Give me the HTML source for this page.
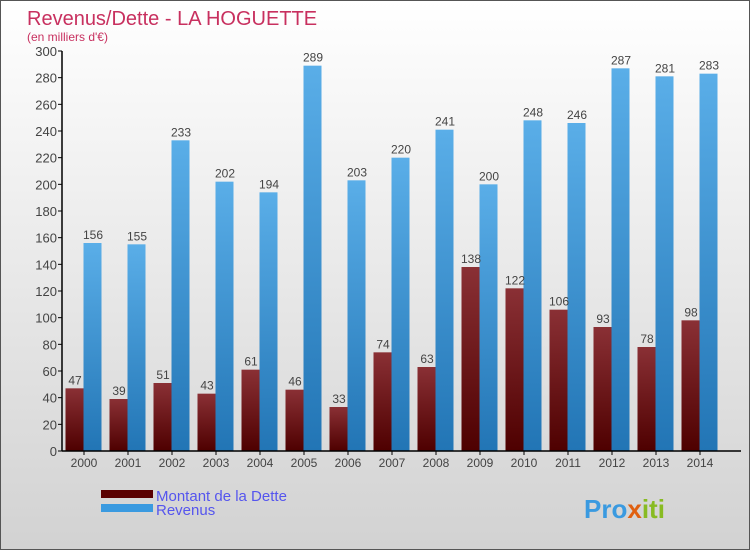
<!DOCTYPE html>
<html><head><meta charset="utf-8"><style>
body{margin:0}
#c{width:750px;height:550px;position:relative;overflow:hidden;font-family:"Liberation Sans",sans-serif;background:linear-gradient(#ffffff,#d2d2d2);box-sizing:border-box;border:1px solid #555}
</style></head><body>
<div id="c">
<svg id="s" width="750" height="550" style="position:absolute;left:0;top:0">
<defs>
<linearGradient id="gd" x1="0" y1="0" x2="0" y2="1"><stop offset="0" stop-color="#8a3035"/><stop offset="1" stop-color="#4e0000"/></linearGradient>
<linearGradient id="gr" x1="0" y1="0" x2="0" y2="1"><stop offset="0" stop-color="#5aaee8"/><stop offset="1" stop-color="#2275b5"/></linearGradient>
</defs>
<text x="26" y="24" font-size="20" fill="#c8305f">Revenus/Dette - LA HOGUETTE</text>
<text x="26" y="40" font-size="12" fill="#c8305f">(en milliers d'€)</text>
<g id="g"></g>
<rect x="100" y="489" width="52" height="8" fill="#5a0000"/>
<rect x="100" y="503" width="52" height="8" fill="#3a9ae0"/>
<text x="155" y="500" font-size="15" fill="#5555ee">Montant de la Dette</text>
<text x="155" y="514" font-size="15" fill="#5555ee">Revenus</text>
<text x="583" y="517" font-size="26" font-weight="bold" fill="#3a9ae0">Pro<tspan fill="#e06010">x</tspan><tspan fill="#88bb22">iti</tspan></text>
</svg>
</div>
<script>
const years=["2000","2001","2002","2003","2004","2005","2006","2007","2008","2009","2010","2011","2012","2013","2014"];
const dette=[47,39,51,43,61,46,33,74,63,138,122,106,93,78,98];
const revenus=[156,155,233,202,194,289,203,220,241,200,248,246,287,281,283];
const yTicks=[0,20,40,60,80,100,120,140,160,180,200,220,240,260,280,300];
const g=document.getElementById('g');
const NS='http://www.w3.org/2000/svg';
const x0=61,step=44,yb=450,yMax=300,ph=400;
const y=v=>yb-v/yMax*ph;
function mk(t,a,txt){const e=document.createElementNS(NS,t);for(const k in a)e.setAttribute(k,a[k]);if(txt!=null)e.textContent=txt;g.appendChild(e);return e;}
yTicks.forEach(v=>{
 const l=mk('line',{x1:57,x2:61,y1:y(v),y2:y(v),stroke:'#000'});
 
 
 const t=mk('text',{x:56,y:y(v)+5,'font-size':13,'text-anchor':'end',fill:'#444'},v);
 
 
});
years.forEach((yr,i)=>{
 const c=x0+step*i+22;
 const b1=mk('rect',{x:c-18.5,y:y(dette[i]),width:18,height:yb-y(dette[i]),fill:'url(#gd)'});
 
 
 const b2=mk('rect',{x:c-0.5,y:y(revenus[i]),width:18,height:yb-y(revenus[i]),fill:'url(#gr)'});
 
 
 const t1=mk('text',{x:c-9,y:y(dette[i])-4,'font-size':12,'text-anchor':'middle',fill:'#444'},dette[i]);
 
 
 const t2=mk('text',{x:c+9,y:y(revenus[i])-4,'font-size':12,'text-anchor':'middle',fill:'#444'},revenus[i]);
 
 
 const tk=mk('line',{x1:c,x2:c,y1:yb,y2:yb+4,stroke:'#000'});
 
 
 const tl=mk('text',{x:c,y:466,'font-size':12,'text-anchor':'middle',fill:'#444'},yr);
 
 
});
const ya=mk('line',{x1:61,x2:61,y1:50,y2:450,stroke:'#000','stroke-width':1.5});


const xa=mk('line',{x1:61,x2:740,y1:450,y2:450,stroke:'#000','stroke-width':1.5});


</script>
</body></html>
